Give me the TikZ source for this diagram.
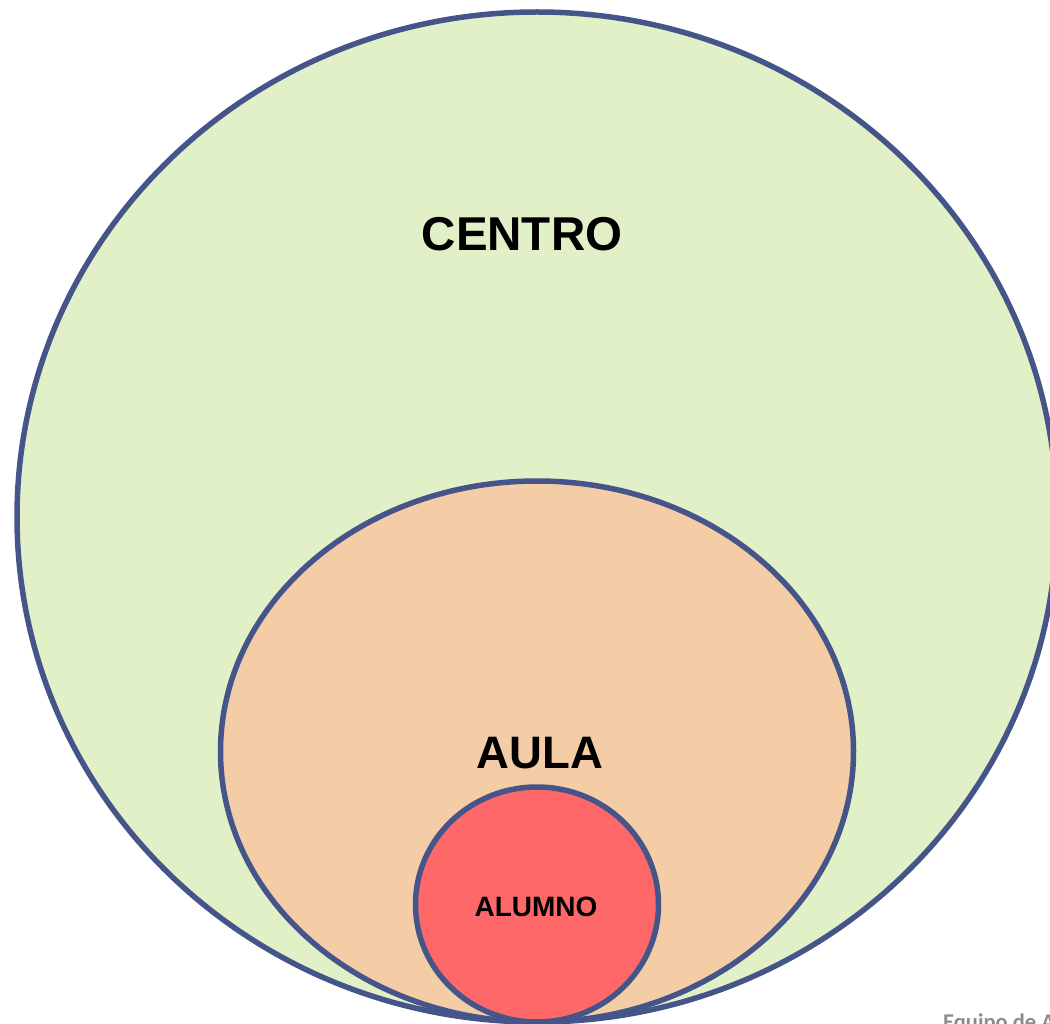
\documentclass[tikz,border=0pt]{standalone}
\usepackage{fontspec}
\setmainfont{Liberation Sans}
\newfontfamily\footfont{Carlito}
\definecolor{ringblue}{HTML}{45558A}
\definecolor{centrofill}{HTML}{E2F0C8}
\definecolor{aulafill}{HTML}{F4CDA7}
\definecolor{alumnofill}{HTML}{FF6868}
\definecolor{footgrey}{HTML}{8C8C8C}

\begin{document}
\begin{tikzpicture}[x=1pt,y=-1pt,
    ring/.style={draw=ringblue, line width=5.5pt},
    label/.style={inner sep=0pt, font=\bfseries}]
            \useasboundingbox (0,0) rectangle (1050,1024);

            % outer level
            \draw[ring, fill=centrofill] (537,517) ellipse [x radius=520pt, y radius=505pt];
            \node[label, font=\fontsize{47.5}{50}\selectfont\bfseries] (centro) at (522,234.5) {CENTRO};

            % middle level
            \draw[ring, fill=aulafill] (537,751.5) ellipse [x radius=316.5pt, y radius=270.5pt];
            \node[label, font=\fontsize{45.5}{48}\selectfont\bfseries] (aula) at (540,753.5) {AULA};

            % inner level
            \draw[ring, fill=alumnofill] (537,904.5) ellipse [x radius=121.5pt, y radius=117.5pt];
            \node[label, font=\fontsize{28}{30}\selectfont\bfseries] (alumno) at (536,907) {ALUMNO};

            \node[anchor=base west, inner sep=0pt, text=footgrey, font=\footfont\fontsize{22.5}{24}\selectfont\bfseries] (equipo) at (943,1029.5) {Equipo de A};
        \end{tikzpicture}
\end{document}
